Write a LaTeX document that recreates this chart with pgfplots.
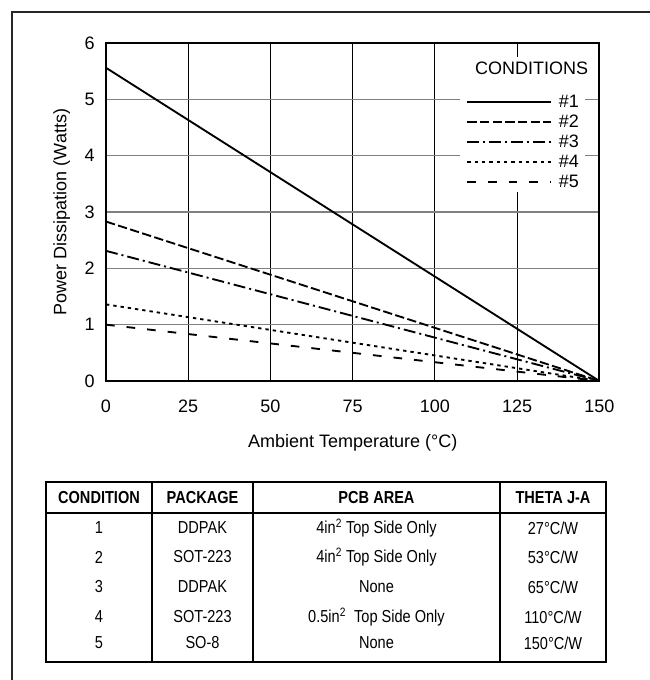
\documentclass[border=0pt]{standalone}
\usepackage{fontspec}
\setmainfont{Liberation Sans}
\usepackage{graphicx}
\usepackage{pgfplots}
\pgfplotsset{compat=1.18}
\newcommand\nar[1]{\scalebox{0.84}[1]{#1}}
\newcommand\tf{\fontsize{13}{14}\selectfont}
\newcommand\lf{\fontsize{13.5}{15}\selectfont}
\begin{document}
\begin{tikzpicture}
\useasboundingbox (0,0) rectangle (486.75pt,510pt);
\begin{axis}[
  at={(79.5pt,224.25pt)}, anchor=south west,
  scale only axis, width=370pt, height=253.5pt,
  xmin=0, xmax=150, ymin=0, ymax=6,
  xtick={0,25,50,75,100,125,150}, ytick={0,1,2,3,4,5,6},
  xmajorgrids, ymajorgrids,
  x grid style={black, line width=0.6pt},
  y grid style={black!50, line width=0.9pt},
  axis line style={line width=1.6pt},
  major tick length=0pt,
  /pgf/number format/assume math mode=true,
  tick label style={font=\lf},
  yticklabel style={xshift=-5pt},
  xticklabel style={yshift=-11pt},
  label style={font=\lf},
  xlabel={Ambient Temperature (\textdegree C)},
  ylabel={Power Dissipation (Watts)},
  xlabel style={yshift=-9pt},
  ylabel style={yshift=4pt},
  legend style={at={(0.97,0.8617)}, anchor=north east, draw=none, fill=none,
    font=\lf, row sep=1pt, column sep=4pt,
    nodes={inner sep=1pt, text height=10pt, text depth=2pt}},
  legend cell align=left,
  legend image code/.code={\draw[#1] (0pt,0pt) -- (63pt,0pt);},
]
\fill[white] (axis cs:107.6,3.355) rectangle (axis cs:145.5,5.75);
\node[font=\lf] at (axis cs:129.4,5.556) {CONDITIONS};
\addplot[line width=1.4pt] coordinates {(0,5.56) (150,0)};
\addlegendentry{\#1}
\addplot[line width=1.4pt, dash pattern=on 7pt off 2.5pt] coordinates {(0,2.83) (150,0)};
\addlegendentry{\#2}
\addplot[line width=1.4pt, dash pattern=on 9pt off 3pt on 1.5pt off 3pt] coordinates {(0,2.31) (150,0)};
\addlegendentry{\#3}
\addplot[line width=1.4pt, dash pattern=on 2.5pt off 3pt] coordinates {(0,1.36) (150,0)};
\addlegendentry{\#4}
\addplot[line width=1.4pt, dash pattern=on 6.5pt off 9pt] coordinates {(0,1.0) (150,0)};
\addlegendentry{\#5}
\end{axis}
\begin{scope}[x=0.75pt,y=-0.75pt,shift={(0pt,510pt)}]
\draw[line width=2pt, black!85] (12,690) -- (12,12) -- (660,12);
\begin{scope}[line width=1.8pt]
\draw (46,482) rectangle (606,662);
\draw (46,513) -- (606,513);
\draw (152,482) -- (152,662);
\draw (253,482) -- (253,662);
\draw (500,482) -- (500,662);
\end{scope}
\begin{scope}[every node/.style={font=\tf, inner sep=0pt}]
\node[font=\tf\bfseries] at (99,498) {\nar{CONDITION}};
\node[font=\tf\bfseries] at (202.5,498) {\nar{PACKAGE}};
\node[font=\tf\bfseries] at (376.5,498) {\nar{PCB AREA}};
\node[font=\tf\bfseries] at (553,498) {\nar{THETA J-A}};
\node at (99,528) {\nar{1}};
\node at (99,557) {\nar{2}};
\node at (99,587) {\nar{3}};
\node at (99,617) {\nar{4}};
\node at (99,643) {\nar{5}};
\node at (202.5,528) {\nar{DDPAK}};
\node at (202.5,557) {\nar{SOT-223}};
\node at (202.5,587) {\nar{DDPAK}};
\node at (202.5,617) {\nar{SOT-223}};
\node at (202.5,643) {\nar{SO-8}};
\node at (376.5,528) {\nar{4in\textsuperscript{2} Top Side Only}};
\node at (376.5,557) {\nar{4in\textsuperscript{2} Top Side Only}};
\node at (376.5,587) {\nar{None}};
\node at (376.5,617) {\nar{0.5in\textsuperscript{2}\ \ Top Side Only}};
\node at (376.5,643) {\nar{None}};
\node at (553,528) {\nar{27°C/W}};
\node at (553,557) {\nar{53°C/W}};
\node at (553,587) {\nar{65°C/W}};
\node at (553,617) {\nar{110°C/W}};
\node at (553,643) {\nar{150°C/W}};
\end{scope}
\end{scope}
\end{tikzpicture}
\end{document}
